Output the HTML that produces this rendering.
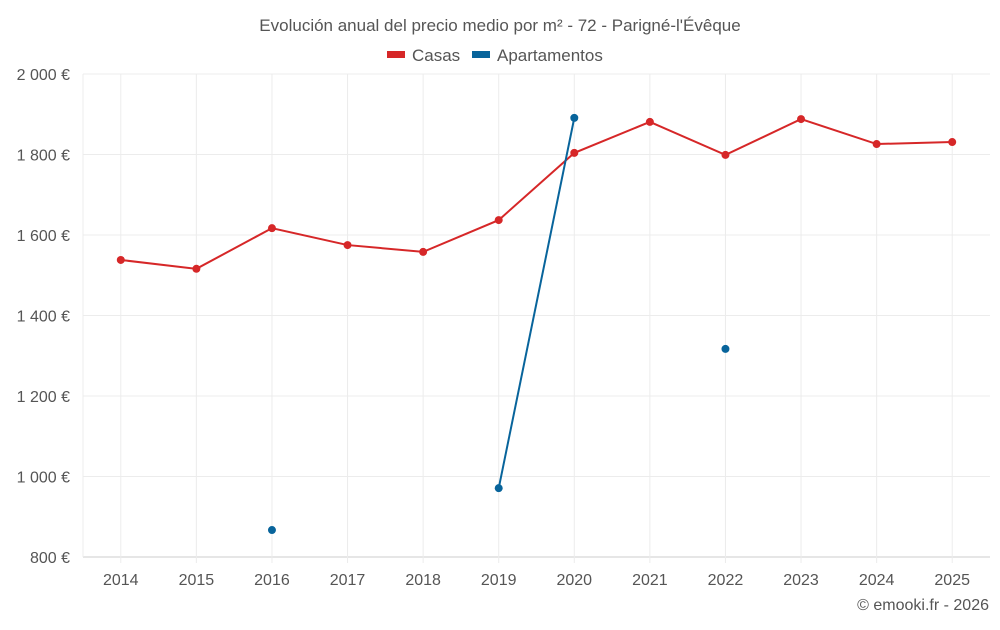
<!DOCTYPE html>
<html><head><meta charset="utf-8"><style>
body{margin:0;background:#fff;font-family:"Liberation Sans",sans-serif;}
svg text{font-family:"Liberation Sans",sans-serif;fill:#555;}
</style></head><body>
<svg id="chart" width="1000" height="625" viewBox="0 0 1000 625" xmlns="http://www.w3.org/2000/svg">
<text x="500" y="31" text-anchor="middle" font-size="17">Evolución anual del precio medio por m² - 72 - Parigné-l'Évêque</text>
<g><rect x="387" y="51" width="18" height="7" fill="#d62728"/><text x="412" y="61" font-size="17">Casas</text></g>
<g><rect x="472" y="51" width="18" height="7" fill="#08649b"/><text x="497" y="61" font-size="17">Apartamentos</text></g>
<g id="grid"></g>
<g id="axes"></g>
<g id="series"></g>
<text x="989" y="610" text-anchor="end" font-size="16">© emooki.fr - 2026</text>
</svg>
<script>
const years=[2014,2015,2016,2017,2018,2019,2020,2021,2022,2023,2024,2025];
const casas=[1538,1516,1617,1575,1558,1637,1804,1881,1799,1888,1826,1831];
const apartamentos=[null,null,867,null,null,971,1891,null,1317,null,null,null];
const yTicks=[800,1000,1200,1400,1600,1800,2000];
const yTickLabels=["800 €","1 000 €","1 200 €","1 400 €","1 600 €","1 800 €","2 000 €"];
const NS="http://www.w3.org/2000/svg";
const pLeft=83,pRight=990,pTop=74,pBottom=557;
const step=(pRight-pLeft)/years.length;
const xs=i=>pLeft+step*(i+0.5);
const ys=v=>pBottom-(v-800)/(2000-800)*(pBottom-pTop);
function mk(tag,attrs,parent){const e=document.createElementNS(NS,tag);for(const k in attrs)e.setAttribute(k,attrs[k]);parent.appendChild(e);return e;}
const grid=document.getElementById('grid'),axes=document.getElementById('axes'),series=document.getElementById('series');
yTicks.forEach((t,i)=>{
 const l=mk('line',{x1:pLeft,x2:pRight,y1:ys(t),y2:ys(t),stroke:i===0?'#ccc':'#ececec','stroke-width':1},grid);
 
 
 const tx=mk('text',{x:70,y:ys(t)+6,'text-anchor':'end','font-size':16},axes);
 tx.textContent=yTickLabels[i];
 
 
});
mk('line',{x1:pLeft,x2:pLeft,y1:pTop,y2:pBottom,stroke:'#ececec'},grid);
years.forEach((yr,i)=>{
 const l=mk('line',{x1:xs(i),x2:xs(i),y1:pTop,y2:pBottom+6,stroke:'#ececec'},grid);
 
 
 const tx=mk('text',{x:xs(i),y:585,'text-anchor':'middle','font-size':16},axes);
 tx.textContent=yr;
 
 
});
function draw(vals,color,name){
 let segs=[],cur=[];
 vals.forEach((v,i)=>{if(v==null){if(cur.length)segs.push(cur);cur=[];}else cur.push([xs(i),ys(v)]);});
 if(cur.length)segs.push(cur);
 segs.forEach(s=>{if(s.length>1){const p=mk('polyline',{points:s.map(q=>q.join(',')).join(' '),fill:'none',stroke:color,'stroke-width':2},series);
  
  }});
 vals.forEach((v,i)=>{if(v==null)return;const c=mk('circle',{cx:xs(i),cy:ys(v),r:4,fill:color},series);
  
  });
}
draw(casas,'#d62728','casas');
draw(apartamentos,'#08649b','apartamentos');
</script>
</body></html>
